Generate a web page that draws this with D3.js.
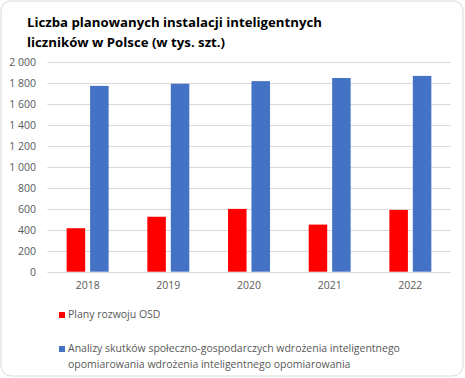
<!DOCTYPE html>
<html><head><meta charset="utf-8">
<script src="https://cdn.jsdelivr.net/npm/d3@7"></script>
<style>body{margin:0;background:#fff}svg{display:block}</style>
</head><body>
<svg id="c" width="465" height="378"></svg>
<script>
const years = ["2018","2019","2020","2021","2022"];
const seriesNames = ["Plany rozwoju OSD","Analizy skutków społeczno-gospodarczych wdrożenia inteligentnego opomiarowania wdrożenia inteligentnego opomiarowania"];
const osd = [415, 525, 600, 450, 590];
const analizy = [1775, 1795, 1820, 1850, 1870];
const yTicks = [0,200,400,600,800,1000,1200,1400,1600,1800,2000];
const titleLines = ["Liczba planowanych instalacji inteligentnych","liczników w Polsce (w tys. szt.)"];
const colors = ["#ff0000","#4472c4"];

const svg = d3.select("#c");
svg.append("rect").attr("x",1).attr("y",1).attr("width",462).attr("height",375).attr("rx",10)
  .attr("fill","#fff").attr("stroke","#d9d9d9").attr("stroke-width",1);

const font = "'Open Sans', 'Noto Sans', sans-serif";
const x = d3.scaleBand().domain(years).range([47.3,450.7]).paddingInner(0.48).paddingOuter(0.24);
const xi = d3.scaleBand().domain([0,1]).range([0,x.bandwidth()]).paddingInner(0.21);
const y = d3.scaleLinear().domain([0,2000]).range([271.7,62.3]);

// gridlines
svg.append("g").selectAll("line").data(yTicks).join("line")
  .attr("x1",47.3).attr("x2",450.7).attr("y1",d=>Math.round(y(d))+0.5).attr("y2",d=>Math.round(y(d))+0.5)
  .attr("stroke","#d9d9d9").attr("stroke-width",1);

// y axis labels
const fmt = d => d3.format(",")(d).replace(/,/g," ");
const yAxis = d3.axisLeft(y).tickValues(yTicks).tickSize(0).tickPadding(0).tickFormat(fmt);
const ga = svg.append("g").attr("transform","translate(36,0)").call(yAxis);
ga.select(".domain").remove();
ga.selectAll("text").attr("font-family",font).attr("font-size","10.5px").attr("fill","#595959");

// x axis labels
const xAxis = d3.axisBottom(x).tickSize(0).tickPadding(0);
const gx = svg.append("g").attr("transform","translate(0,281.5)").call(xAxis);
gx.select(".domain").remove();
gx.selectAll("text").attr("font-family",font).attr("font-size","10.5px").attr("fill","#595959");

// bars
const data = [osd, analizy];
data.forEach((vals,si)=>{
  svg.append("g").selectAll("rect").data(vals).join("rect")
    .attr("x",(d,i)=>x(years[i])+xi(si)).attr("width",xi.bandwidth())
    .attr("y",d=>y(d)).attr("height",d=>y(0)-y(d)).attr("fill",colors[si]);
});

// title
const tt = svg.append("text").attr("font-family",font).attr("font-weight","bold").attr("font-size","14px").attr("fill","#000");
titleLines.forEach((l,i)=>tt.append("tspan").attr("x",27).attr("y",i===0?26.5:46.5).text(l));
const t1 = tt.select("tspan").node().getComputedTextLength();
tt.attr("font-size",(14*295/t1).toFixed(2)+"px");

// legend
const lg = svg.append("g");
lg.append("rect").attr("x",59).attr("y",312).attr("width",6).attr("height",6).attr("fill",colors[0]);
lg.append("rect").attr("x",59).attr("y",346).attr("width",6).attr("height",6).attr("fill",colors[1]);
const l1 = lg.append("text").attr("x",68).attr("y",317.5).attr("font-family",font).attr("font-size","10.5px").attr("fill","#595959").text(seriesNames[0]);
const l2 = lg.append("text").attr("font-family",font).attr("font-size","10.5px").attr("fill","#595959");
const words = seriesNames[1].split(" ");
const line1 = words.slice(0,5).join(" "), line2 = words.slice(5).join(" ");
l2.append("tspan").attr("x",68).attr("y",352).text(line1);
l2.append("tspan").attr("x",68).attr("y",367.5).text(line2);
const w = l2.select("tspan").node().getComputedTextLength();
const fs = 10.5*332/w;
l2.attr("font-size",fs.toFixed(2)+"px");
l1.attr("font-size",fs.toFixed(2)+"px");
</script>
</body></html>
